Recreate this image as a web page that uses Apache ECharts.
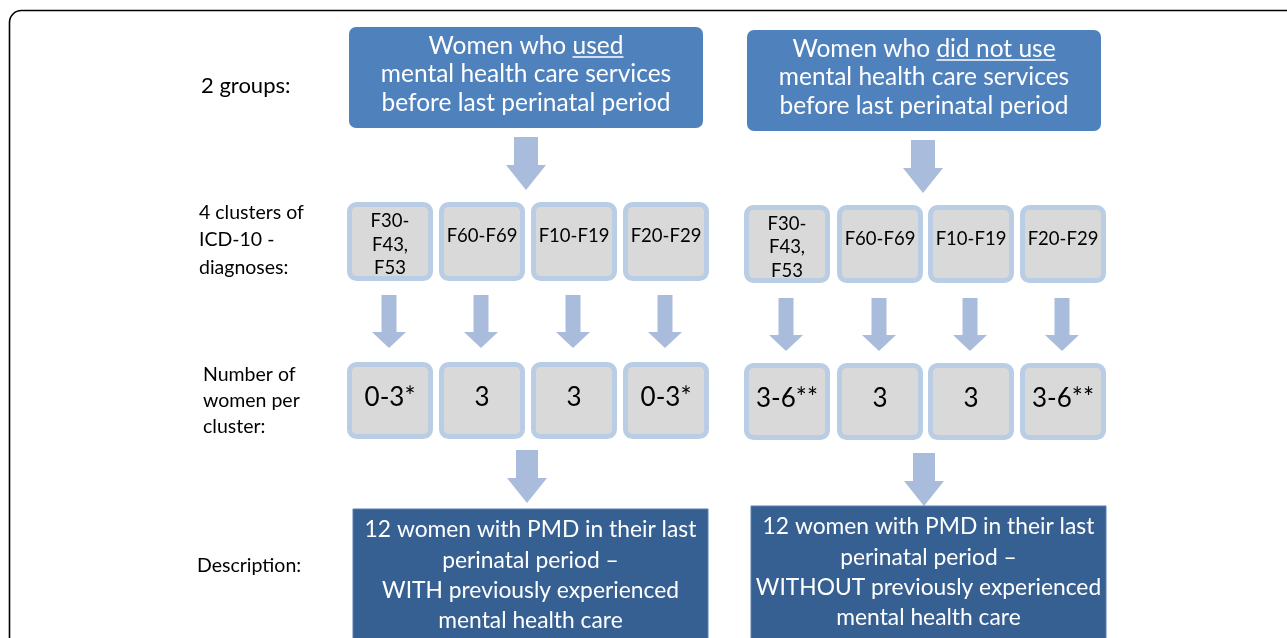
<!DOCTYPE html>
<html><head><meta charset="utf-8">
<script src="https://cdn.jsdelivr.net/npm/echarts@6/dist/echarts.min.js"></script>
<style>html,body{margin:0;padding:0;background:#fff}#c{width:1287px;height:638px}</style>
</head><body><div id="c"></div>
<script>
// ---- data ----
var rowLabels = ['2 groups:', '4 clusters of\nICD-10 -\ndiagnoses:', 'Number of\nwomen per\ncluster:', 'Description:'];
var groupPrefix = ['Women who ', 'Women who '];
var groupKey = ['used', 'did not use'];
var groupRest = ['mental health care services\nbefore last perinatal period', 'mental health care services\nbefore last perinatal period'];
var clusters = ['F30-\nF43,\nF53', 'F60-F69', 'F10-F19', 'F20-F29'];
var womenWith = ['0-3*', '3', '3', '0-3*'];
var womenWithout = ['3-6**', '3', '3', '3-6**'];
var descriptions = [
  '12 women with PMD in their last\nperinatal period \u2013\nWITH previously experienced\nmental health care',
  '12 women with PMD in their last\nperinatal period \u2013\nWITHOUT previously experienced\nmental health care'
];

// ---- layout ----
var FONT = 'Lato';
var els = [];
var mctx = document.createElement('canvas').getContext('2d');
function tw(t, size) { mctx.font = size + 'px ' + FONT; return mctx.measureText(t).width; }

// outer frame
els.push({type:'rect', shape:{x:9.5,y:10.5,width:1300,height:700,r:12}, style:{fill:null,stroke:'#000',lineWidth:1.6}});

// row labels
var labelPos = [[201,86,22,28],[199,240,19.5,27.5],[203,401,19.5,26],[197,566,19.5,26]];
rowLabels.forEach(function(t,i){
  var p = labelPos[i];
  els.push({type:'text', x:p[0], y:p[1], style:{text:t, font:p[2]+'px '+FONT, fill:'#000', align:'left', verticalAlign:'middle', lineHeight:p[3]}});
});

function arrow(cx, top, bottom, shaftW, headW, headH, color){
  var hy = bottom - headH;
  els.push({type:'polygon', shape:{points:[[cx-shaftW/2,top],[cx+shaftW/2,top],[cx+shaftW/2,hy],[cx+headW/2,hy],[cx,bottom],[cx-headW/2,hy],[cx-shaftW/2,hy]]}, style:{fill:color}});
}

var groups = [
  {top:[349,27,354,101], arrow1:[526,137,190], cl:[[347,202],[439,202],[531,202],[623,202]], clH:79, clW:86,
   smallA:[295,348], num:womenWith, numY:362, arrow2:[527,450,503], desc:[353,509,355]},
  {top:[747,30,354,101], arrow1:[923,140,193], cl:[[744,205],[837,205],[928,205],[1020,205]], clH:78, clW:86,
   smallA:[298,351], num:womenWithout, numY:363, arrow2:[924,453,506], desc:[751,506,355]}
];

var ARROW_C = '#A9BCDB';
groups.forEach(function(g, gi){
  var b = g.top;
  els.push({type:'rect', shape:{x:b[0],y:b[1],width:b[2],height:b[3],r:7}, style:{fill:'#4F81BD'}});
  var cx = b[0]+b[2]/2, cy = b[1]+b[3]/2 - 3, fs = 24.5, lh = 28.5;
  var line1 = groupPrefix[gi] + groupKey[gi];
  var allText = line1 + '\n' + groupRest[gi];
  els.push({type:'text', x:cx, y:cy, style:{text:allText, font:fs+'px '+FONT, fill:'#fff', align:'center', verticalAlign:'middle', lineHeight:lh}});
  // underline key word
  var w1 = tw(line1, fs), wp = tw(groupPrefix[gi], fs);
  var x0 = cx - w1/2 + wp, x1 = cx + w1/2;
  var uy = cy - lh + 11;
  els.push({type:'line', shape:{x1:x0,y1:uy,x2:x1,y2:uy}, style:{stroke:'#fff',lineWidth:1.4}});

  arrow(g.arrow1[0], g.arrow1[1], g.arrow1[2], 24, 40, 25, ARROW_C);

  g.cl.forEach(function(p, ci){
    els.push({type:'rect', shape:{x:p[0]+2.5,y:p[1]+2.5,width:g.clW-5,height:g.clH-5,r:7}, style:{fill:'#D9D9D9',stroke:'#B9CDE5',lineWidth:5}});
    var multi = clusters[ci].indexOf('\n') >= 0;
    els.push({type:'text', x:p[0]+g.clW/2, y:p[1]+g.clH/2 + (multi ? 3.5 : -5), style:{text:clusters[ci], font:'18.5px '+FONT, fill:'#000', align:'center', verticalAlign:'middle', lineHeight:23.5}});
    var acx = p[0]+g.clW/2 - 1;
    arrow(acx, g.smallA[0], g.smallA[1], 15, 34, 16, ARROW_C);
    els.push({type:'rect', shape:{x:p[0]+2.5,y:g.numY+2.5,width:g.clW-5,height:77-5,r:7}, style:{fill:'#D9D9D9',stroke:'#B9CDE5',lineWidth:5}});
    els.push({type:'text', x:p[0]+g.clW/2, y:g.numY+77/2-3, style:{text:g.num[ci], font:'26px '+FONT, fill:'#000', align:'center', verticalAlign:'middle'}});
  });

  arrow(g.arrow2[0], g.arrow2[1], g.arrow2[2], 22, 40, 25, ARROW_C);

  var d = g.desc;
  els.push({type:'rect', shape:{x:d[0],y:d[1],width:d[2],height:200}, style:{fill:'#376092',stroke:'#5B7FB0',lineWidth:1}});
  els.push({type:'text', x:d[0]+d[2]/2, y:575.5 - (gi===1 ? 3 : 0), style:{text:descriptions[gi], font:'22.8px '+FONT, fill:'#fff', align:'center', verticalAlign:'middle', lineHeight:30.3}});
});

var chart = echarts.init(document.getElementById('c'), null, {renderer:'canvas'});
chart.setOption({backgroundColor:'#fff', animation:false, graphic:{elements:els}});
</script></body></html>
